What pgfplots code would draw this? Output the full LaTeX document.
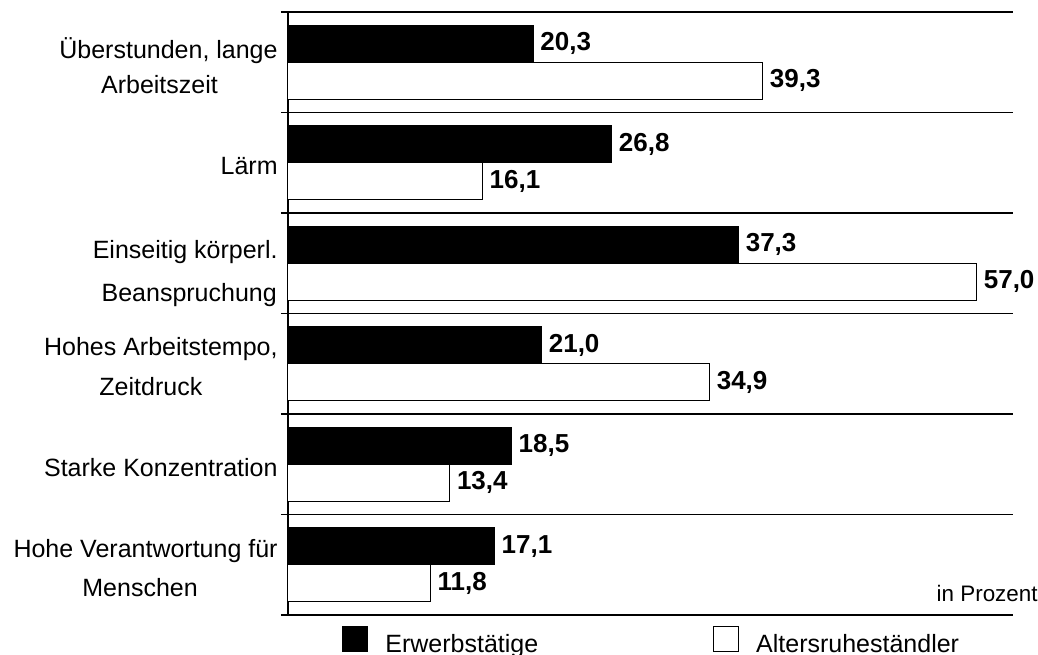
\documentclass[border=0pt]{standalone}
\usepackage{fontspec}
\setmainfont{Liberation Sans}
\usepackage{pgfplots}
\pgfplotsset{compat=1.18}
\newcommand\labfont{\fontsize{12.5bp}{17.5bp}\selectfont}

\begin{document}
\begin{tikzpicture}
  \useasboundingbox (-144bp,-20bp) rectangle (375bp,307.5bp);
  \begin{axis}[
      at={(0,0)}, anchor=south west,
      scale only axis, width=362.5bp, height=301.5bp,
      clip=false,
      xbar, bar width=0.37,
      xmin=0, xmax=60, ymin=0, ymax=6, y dir=reverse,
      axis x line=none, xtick=\empty,
      axis y line=left, y axis line style={-, line width=0.6bp},
      ytick={0.5,1.5,2.5,3.5,4.5,5.5},
      yticklabels={
        {Überstunden, lange\\Arbeitszeit\hspace*{9bp}},
        {Lärm},
        {\rule{0pt}{16bp}Einseitig körperl.\\[4bp]\hspace*{4bp}Beanspruchung},
        {Hohes Arbeitstempo,\\[2.5bp]Zeitdruck\hspace*{10bp}},
        {Starke Konzentration},
        {Hohe Verantwortung für\\[2bp]Menschen\hspace*{5.5bp}}},
      yticklabel style={align=center, inner sep=0pt, xshift=-5bp, yshift=-1.5bp, font=\labfont},
      major tick length=0pt,
      minor ytick={0,1,2,3,4,5,6}, yminorgrids,
      minor tick length=3.5bp, tick align=outside, ytick pos=left,
      minor tick style={black, line width=0.7bp},
      minor grid style={black, line width=0.7bp},
      point meta=x,
      nodes near coords,
      /pgf/number format/assume math mode=true,
      nodes near coords={\pgfmathprintnumber[fixed,fixed zerofill,precision=1,use comma]{\pgfplotspointmeta}},
      nodes near coords style={anchor=west, inner sep=0pt, xshift=3.3bp,
        font=\fontsize{13bp}{15bp}\selectfont\bfseries},
      legend columns=2,
      legend cell align=left,
      legend style={draw=none, fill=none, inner sep=0pt, font=\labfont,
        at={(0.0745,-0.0456)}, anchor=west,
        /tikz/every odd column/.append style={column sep=6.5bp},
        /tikz/every even column/.append style={column sep=85.5bp}},
    ]

    % Erwerbstaetige
    \addplot[fill=black, draw=black, line width=0.5bp, bar shift=-0.185,
      legend image code/.code={\draw[fill=black,draw=black,line width=0.5bp] (0bp,-3.5bp) rectangle (12.5bp,9bp);}]
      coordinates {
        (20.3,0.5)
        (26.8,1.5)
        (37.3,2.5)
        (21.0,3.5)
        (18.5,4.5)
        (17.1,5.5)
      };
    \addlegendentry{Erwerbstätige}

    % Altersruhestaendler
    \addplot[fill=white, draw=black, line width=0.5bp, bar shift=0.185,
      legend image code/.code={\draw[fill=white,draw=black,line width=0.5bp] (0bp,-3.5bp) rectangle (12.5bp,9bp);}]
      coordinates {
        (39.3,0.5)
        (16.1,1.5)
        (57.0,2.5)
        (34.9,3.5)
        (13.4,4.5)
        (11.8,5.5)
      };
    \addlegendentry{Altersruheständler}

    \node[anchor=base east, inner sep=0pt, font=\fontsize{11.2bp}{13bp}\selectfont,
      xshift=12.5bp, yshift=7bp] at (axis description cs:1,0) {in Prozent};
  \end{axis}
\end{tikzpicture}
\end{document}
